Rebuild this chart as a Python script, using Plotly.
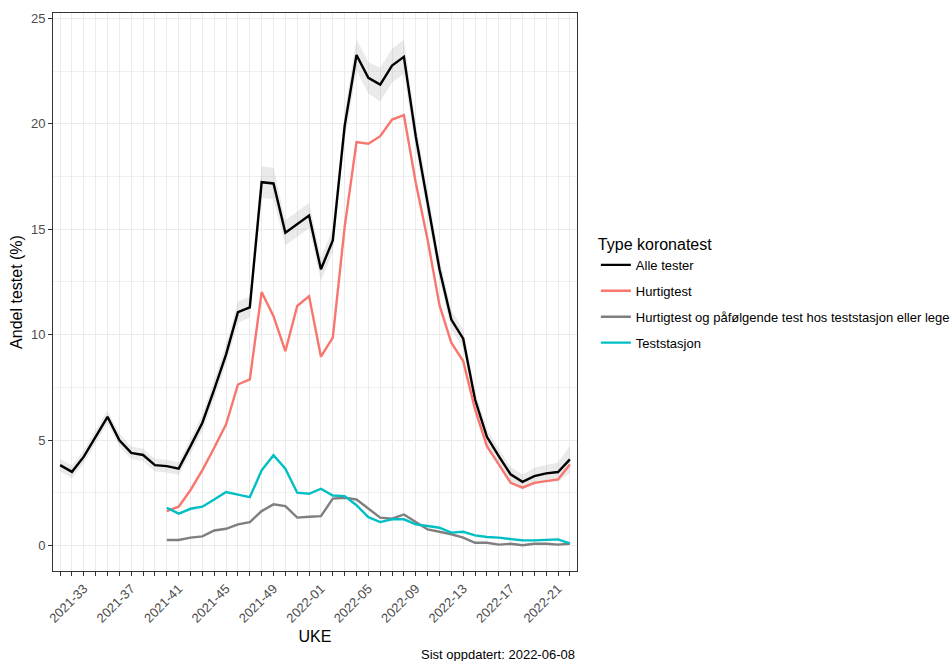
import plotly.graph_objects as go

# ISO weeks on the x axis
weeks = [
    "2021-31", "2021-32", "2021-33", "2021-34", "2021-35", "2021-36", "2021-37", "2021-38",
    "2021-39", "2021-40", "2021-41", "2021-42", "2021-43", "2021-44", "2021-45", "2021-46",
    "2021-47", "2021-48", "2021-49", "2021-50", "2021-51", "2021-52", "2022-01", "2022-02",
    "2022-03", "2022-04", "2022-05", "2022-06", "2022-07", "2022-08", "2022-09", "2022-10",
    "2022-11", "2022-12", "2022-13", "2022-14", "2022-15", "2022-16", "2022-17", "2022-18",
    "2022-19", "2022-20", "2022-21", "2022-22",
]
labelled_weeks = ["2021-33", "2021-37", "2021-41", "2021-45", "2021-49", "2022-01",
                  "2022-05", "2022-09", "2022-13", "2022-17", "2022-21"]

# Share tested (%), all test types combined
alle_tester = [
    3.82, 3.50, 4.22, 5.20, 6.11, 5.00, 4.40, 4.30, 3.82, 3.77, 3.65, 4.72, 5.83, 7.41,
    9.07, 11.07, 11.30, 17.23, 17.17, 14.83, 15.23, 15.65, 13.10, 14.47, 19.89, 23.26,
    22.18, 21.86, 22.76, 23.17, 19.40, 16.30, 13.10, 10.72, 9.81, 6.93, 5.16, 4.25, 3.38,
    3.03, 3.30, 3.43, 3.49, 4.09,
]
# Half width of the confidence band around "Alle tester"
alle_ci_halfwidth = [
    0.30, 0.30, 0.30, 0.30, 0.30, 0.30, 0.30, 0.30, 0.30, 0.30, 0.30,
    0.35, 0.40, 0.45, 0.45, 0.50, 0.50,
    0.75, 0.75,
    0.60, 0.60, 0.60, 0.55, 0.55,
    0.70, 0.75, 0.75, 0.80, 0.80, 0.80,
    0.65, 0.55, 0.50,
    0.45, 0.45, 0.40, 0.35, 0.35, 0.35,
    0.35, 0.40, 0.40, 0.45,
    0.65,
]

# The split by test type starts in week 2021-40
split_weeks = weeks[9:]
hurtigtest = [
    1.64, 1.85, 2.64, 3.58, 4.64, 5.75, 7.64, 7.88, 12.02, 10.88, 9.22, 11.36, 11.83,
    8.96, 9.86, 15.10, 19.13, 19.05, 19.41, 20.20, 20.41, 17.20, 14.50, 11.40, 9.62,
    8.75, 6.46, 4.72, 3.85, 2.98, 2.75, 2.98, 3.06, 3.14, 3.85,
]
hurtig_og_stasjon = [
    0.27, 0.27, 0.38, 0.44, 0.72, 0.80, 1.01, 1.12, 1.64, 1.96, 1.88, 1.33, 1.37,
    1.40, 2.23, 2.27, 2.19, 1.75, 1.33, 1.28, 1.48, 1.12, 0.77, 0.66, 0.54, 0.38,
    0.14, 0.14, 0.05, 0.09, 0.02, 0.09, 0.09, 0.05, 0.09,
]
teststasjon = [
    1.80, 1.52, 1.75, 1.85, 2.19, 2.54, 2.42, 2.30, 3.57, 4.29, 3.65, 2.51, 2.46,
    2.70, 2.38, 2.35, 1.92, 1.35, 1.12, 1.25, 1.25, 1.01, 0.93, 0.85, 0.62, 0.66,
    0.49, 0.41, 0.38, 0.30, 0.25, 0.25, 0.27, 0.30, 0.11,
]

series = [
    ("Alle tester", weeks, alle_tester, "#000000"),
    ("Hurtigtest", split_weeks, hurtigtest, "#F8766D"),
    ("Hurtigtest og påfølgende test hos teststasjon eller lege", split_weeks,
     hurtig_og_stasjon, "#7F7F7F"),
    ("Teststasjon", split_weeks, teststasjon, "#00BFC4"),
]

upper = [v + h for v, h in zip(alle_tester, alle_ci_halfwidth)]
lower = [v - h for v, h in zip(alle_tester, alle_ci_halfwidth)]

fig = go.Figure()

# Confidence band
fig.add_trace(go.Scatter(x=weeks, y=upper, mode="lines", line=dict(width=0),
                         showlegend=False, hoverinfo="skip"))
fig.add_trace(go.Scatter(x=weeks, y=lower, mode="lines", line=dict(width=0),
                         fill="tonexty", fillcolor="rgba(150,150,150,0.2)",
                         showlegend=False, hoverinfo="skip"))

for name, xs, ys, color in series:
    fig.add_trace(go.Scatter(x=xs, y=ys, mode="lines", name=name, legendgroup=name,
                             line=dict(color=color, width=2.4)))

font_family = "Liberation Sans, Arial, sans-serif"
ticktext = [w if w in labelled_weeks else "" for w in weeks]

fig.update_layout(
    width=951, height=661,
    margin=dict(l=53, r=374, t=13, b=90, autoexpand=False),
    paper_bgcolor="white", plot_bgcolor="white",
    font=dict(family=font_family, size=13, color="#000000"),
    showlegend=True,
    legend=dict(
        title=dict(text="Type koronatest", font=dict(size=16, color="#000000")),
        font=dict(size=13, color="#000000"),
        x=1.036, xanchor="left", y=0.497, yanchor="middle",
        tracegroupgap=6, bgcolor="rgba(0,0,0,0)",
    ),
    annotations=[dict(
        text="Sist oppdatert: 2022-06-08", xref="paper", yref="paper",
        x=1.0, y=-0.150, xanchor="right", yanchor="middle", showarrow=False,
        font=dict(size=13, color="#000000"),
    )],
)

fig.update_xaxes(
    type="category", categoryorder="array", categoryarray=weeks,
    range=[-0.6, len(weeks) - 1 + 0.6],
    tickmode="array", tickvals=weeks, ticktext=ticktext, tickangle=-45,
    ticks="outside", ticklen=4, tickcolor="#333333", tickwidth=1,
    tickfont=dict(size=13, color="#4D4D4D"),
    showgrid=True, gridcolor="#EBEBEB", gridwidth=1.3,
    showline=True, linecolor="#333333", linewidth=1, mirror=True,
    zeroline=False,
    title=dict(text="UKE", font=dict(size=16, color="#000000"), standoff=6),
)
fig.update_yaxes(
    range=[-1.2, 25.25],
    tickmode="array", tickvals=[0, 5, 10, 15, 20, 25],
    ticks="outside", ticklen=4, tickcolor="#333333", tickwidth=1,
    tickfont=dict(size=13, color="#4D4D4D"),
    showgrid=True, gridcolor="#EBEBEB", gridwidth=1.3,
    minor=dict(tickvals=[2.5, 7.5, 12.5, 17.5, 22.5], showgrid=True,
               gridcolor="#F0F0F0", gridwidth=1, ticks=""),
    showline=True, linecolor="#333333", linewidth=1, mirror=True,
    zeroline=False,
    title=dict(text="Andel testet (%)", font=dict(size=16, color="#000000"), standoff=4),
)

fig.write_html("out.html")
